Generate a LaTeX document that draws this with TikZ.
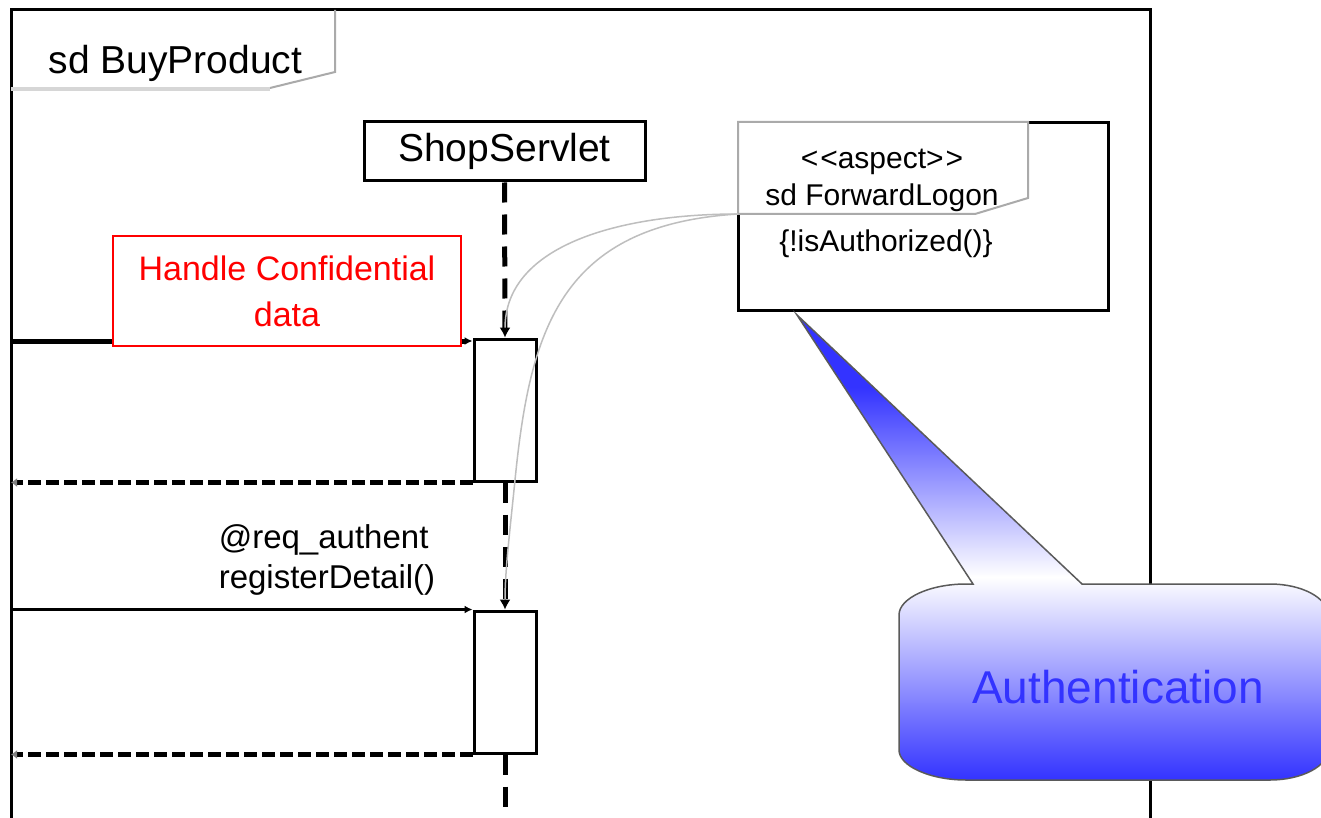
\documentclass[tikz,border=0pt]{standalone}
\usepackage{fontspec}
\setmainfont{Liberation Sans}
\usetikzlibrary{arrows.meta}

\newlength{\du}
\setlength{\du}{1pt}

\definecolor{authblue}{RGB}{51,51,255}
\definecolor{tabgray}{RGB}{170,170,170}
\definecolor{tablight}{RGB}{214,214,214}
\definecolor{hookgray}{RGB}{190,190,190}
\definecolor{calloutgray}{RGB}{90,90,90}

\pgfdeclareverticalshading{authshade}{100bp}{color(0bp)=(authblue); color(25bp)=(authblue); color(46.8bp)=(white); color(67.2bp)=(authblue); color(100bp)=(authblue)}

\tikzset{
  lifeline/.style={line width=5\du, dash pattern=on 20\du off 12\du},
  callmsg/.style={line width=#1, -{Latex[length=8pt,width=8pt]}},
  replymsg/.style={line width=5\du, dash pattern=on 13\du off 5\du, -{Latex[length=6pt,width=9pt,color=gray]}},
  actbox/.style={draw, line width=3\du, fill=white, minimum width=62\du, minimum height=142\du, inner sep=0pt},
  tabline/.style={draw=tabgray, line width=2\du},
  hookline/.style={draw=hookgray, line width=1.5\du, -{Latex[length=10pt,width=11pt,color=black]}}
}

\begin{document}
\begin{tikzpicture}
\pgftransformxscale{1.000000}
\pgftransformyscale{-1.000000}
\useasboundingbox (0\du,0\du) rectangle (1321\du,818\du);
\clip (0\du,0\du) rectangle (1321\du,818\du);
\fill[white] (0\du,0\du) rectangle (1321\du,818\du);

% frame of sd BuyProduct
\draw[line width=3\du] (11\du,830\du) -- (11\du,10\du) -- (1150\du,10\du) -- (1150\du,830\du);
\draw[tabline] (335\du,10\du) -- (335\du,72\du) -- (270\du,88\du);
\draw[draw=tablight, line width=4\du] (270\du,89\du) -- (11\du,89\du);
\node[anchor=base west, font=\fontsize{39}{47}\selectfont] (bptitle) at (45\du,74\du) {sd BuyProduct};
\coordinate (fl) at (11\du,0\du);

% lifeline and activations
\node[draw, line width=3\du, fill=white, minimum width=281\du, minimum height=59\du, font=\fontsize{39}{47}\selectfont] (servlet) at (504.5\du,151.5\du) {ShopServlet};
\node[actbox] (act1) at (505\du,410\du) {};
\node[actbox] (act2) at (505\du,682\du) {};
\coordinate (lifeend) at (505\du,830\du);
\draw[lifeline] (servlet.south) -- (act1.north);
\draw[lifeline] (act1.south) -- (act2.north);
\draw[lifeline] (act2.south) -- (lifeend);

% messages
\coordinate (m1start) at (11\du,341\du);
\draw[callmsg=5\du] (m1start) -- (m1start -| act1.west);
\draw[replymsg] (act1.south west) -- (act1.south west -| fl);
\draw[callmsg=3\du] (act2.north west -| fl) -- (act2.north west);
\draw[replymsg] (act2.south west) -- (act2.south west -| fl);
\node[align=left, font=\fontsize{33}{40}\selectfont] (msglabel) at (327\du,560\du) {@req\_authent\\registerDetail()};

\node[draw=red, fill=white, line width=1.5\du, minimum width=348\du, minimum height=110\du, text=red, align=center, font=\fontsize{34}{46}\selectfont] (note) at (287\du,291\du) {Handle Confidential\\data};

% aspect
\node[draw, line width=3\du, minimum width=370\du, minimum height=188\du] (aspect) at (923\du,216.5\du) {};
\filldraw[tabline, fill=white] (738\du,122\du) -- (1028\du,122\du) -- (1028\du,198\du) -- (975\du,214\du) -- (738\du,214\du) -- cycle;
\node[align=center, font=\fontsize{30}{37}\selectfont] (asptitle) at (882\du,180\du) {<\kern2pt<aspect>\kern2pt>\\sd ForwardLogon};
\node[font=\fontsize{30}{37}\selectfont] (aspguard) at (886\du,244\du) {\{!isAuthorized()\}};
\coordinate (aspfoot) at (738\du,214\du);
\draw[hookline] (aspfoot) .. controls (620\du,214\du) and (505\du,245\du) .. (act1.north);
\draw[hookline] (aspfoot) .. controls (560\du,225\du) and (530\du,330\du) .. (515\du,480\du) .. controls (510\du,530\du) and (505\du,570\du) .. (act2.north);

% callout
\path[shade, shading=authshade, draw=calloutgray, line width=1.5\du] (797\du,315\du) -- (1082\du,584\du) -- (1270\du,584\du) .. controls (1302\du,584\du) and (1328\du,598\du) .. (1328\du,615\du) -- (1328\du,750\du) .. controls (1328\du,766\du) and (1302\du,780\du) .. (1270\du,780\du) -- (966\du,780\du) .. controls (930\du,780\du) and (899\du,766\du) .. (899\du,750\du) -- (899\du,615\du) .. controls (899\du,598\du) and (930\du,584\du) .. (966\du,584\du) -- (973\du,584\du) -- cycle;
\node[anchor=base, text=authblue, font=\fontsize{46}{55}\selectfont] (authtext) at (1118\du,703\du) {Authentication};
\end{tikzpicture}
\end{document}
